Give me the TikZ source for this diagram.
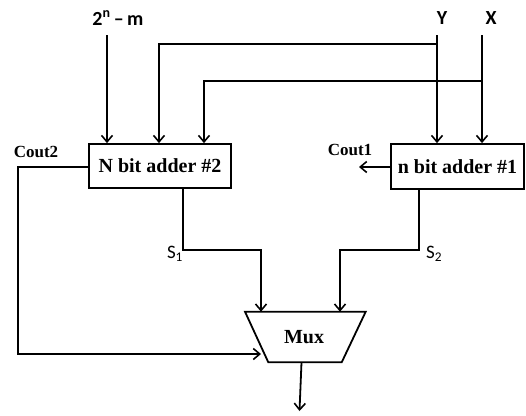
\documentclass[tikz,border=0pt]{standalone}
\usepackage{fontspec}
\setmainfont{Liberation Serif}
\newfontfamily\carlito{Carlito}
\usetikzlibrary{arrows.meta,calc}
\begin{document}
\begin{tikzpicture}[x=1pt,y=-1pt,
  wire/.style={line width=1.8pt,line join=miter},
  arr/.style={wire,-{Straight Barb[length=6.5pt,width=11pt,line width=1.6pt]}},
  block/.style={draw,line width=1.8pt,inner sep=0pt,font=\bfseries\fontsize{20}{22}\selectfont},
  coutlbl/.style={font=\bfseries\fontsize{17}{19}\selectfont,inner sep=0pt},
  toplbl/.style={font=\carlito\bfseries\fontsize{20}{22}\selectfont,inner sep=0pt},
  slbl/.style={font=\carlito\fontsize{19}{21}\selectfont,inner sep=0pt}]
\useasboundingbox (0,0) rectangle (526,415);
% blocks
\node[block,minimum width=142pt,minimum height=44pt] (add2) at (160,166) {N bit adder \#2};
\node[block,minimum width=133pt,minimum height=45pt] (add1) at (457.5,166.5) {n bit adder \#1};
% mux
\coordinate (mtl) at (245,311.7);
\coordinate (mtr) at (365.7,311.7);
\coordinate (mbr) at (341.7,362.3);
\coordinate (mbl) at (268.3,362.3);
\draw[wire] (mtl) -- (mtr) -- (mbr) -- (mbl) -- cycle;
\node[font=\bfseries\fontsize{20}{22}\selectfont,inner sep=0pt] (mux) at (304,337) {Mux};
% labels
\node[toplbl] (lm) at (118,18) {2\textsuperscript{n}\,–\,m};
\node[toplbl] (ly) at (442,18) {Y};
\node[toplbl] (lx) at (491,18) {X};
\node[coutlbl] (lc2) at (36,152) {Cout2};
\node[coutlbl] (lc1) at (350,150) {Cout1};
\node[slbl] (ls1) at (175,254) {S\textsubscript{1}};
\node[slbl] (ls2) at (434,254) {S\textsubscript{2}};
% input coordinates
\coordinate (inm) at (107,35);
\coordinate (iny) at (437,35);
\coordinate (inx) at (482,35);
\coordinate (jy) at (437,44);
\coordinate (jx) at (482,81);
\coordinate (b2y) at (159,44);
\coordinate (b2x) at (204,81);
% inputs
\draw[arr] (inm) -- (inm |- add2.north);
\draw[arr] (iny) -- (iny |- add1.north);
\draw[arr] (inx) -- (inx |- add1.north);
\draw[arr] (jy) -- (b2y) -- (b2y |- add2.north);
\draw[arr] (jx) -- (b2x) -- (b2x |- add2.north);
% carry outs
\coordinate (c1end) at (359,167);
\draw[arr] (add1.west |- c1end) -- (c1end);
\coordinate (c2a) at (18,167);
\coordinate (c2b) at (18,354);
\coordinate (c2end) at (261,354);
\draw[arr] (add2.west |- c2a) -- (c2a) -- (c2b) -- (c2end);
% sums
\coordinate (s1a) at (183,250);
\coordinate (s1b) at (261,250);
\draw[arr] (s1a |- add2.south) -- (s1a) -- (s1b) -- (s1b |- mtl);
\coordinate (s2a) at (419,250);
\coordinate (s2b) at (340,250);
\draw[arr] (s2a |- add1.south) -- (s2a) -- (s2b) -- (s2b |- mtl);
% output
\coordinate (outa) at (301.5,362.3);
\coordinate (outb) at (299.5,411);
\draw[arr] (outa) -- (outb);
\end{tikzpicture}
\end{document}
